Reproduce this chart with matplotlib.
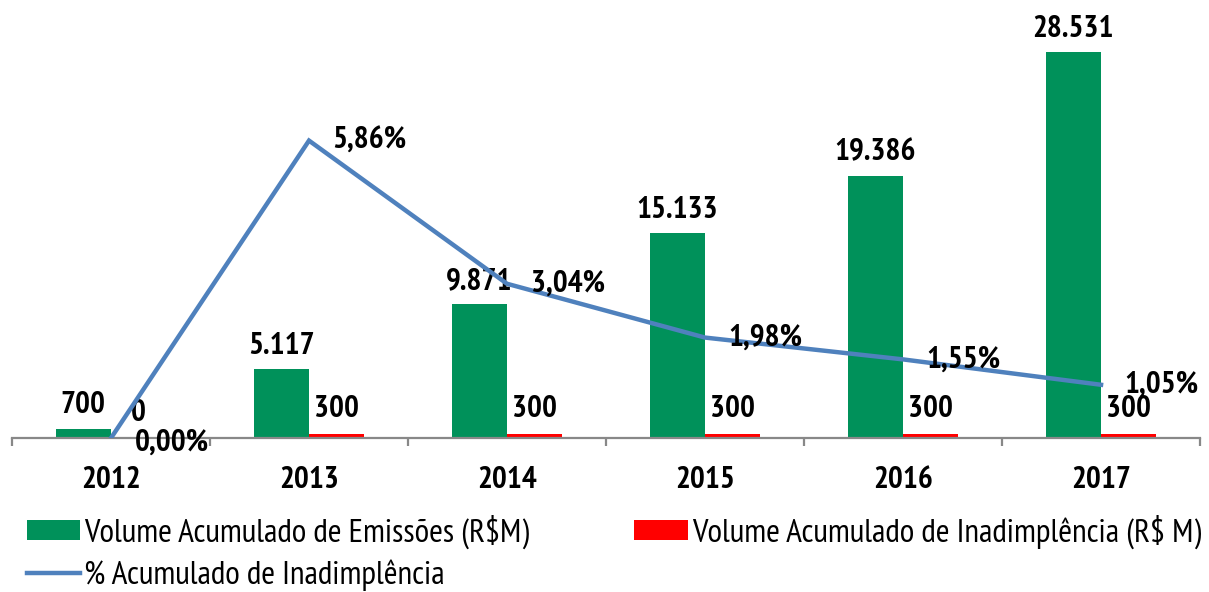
import matplotlib
matplotlib.use('Agg')
import matplotlib.pyplot as plt
from matplotlib.ticker import FixedLocator

plt.rcParams['font.family'] = ['PT Sans Narrow', 'DejaVu Sans']

years = ['2012', '2013', '2014', '2015', '2016', '2017']
emissoes = [700, 5117, 9871, 15133, 19386, 28531]
inadimplencia = [0, 300, 300, 300, 300, 300]
pct_inad = [0.00, 5.86, 3.04, 1.98, 1.55, 1.05]

green = '#00915A'
red = '#FF0000'
blue = '#4F81BD'


def fmt_int(v):
    return f'{v:,}'.replace(',', '.')


def fmt_pct(v):
    return f'{v:.2f}%'.replace('.', ',')


fig = plt.figure(figsize=(12.09, 5.92), dpi=100)
ax = fig.add_axes([0.0099, 0.26, 0.9827, 0.686])
ax2 = ax.twinx()

x = list(range(len(years)))
w = 0.28
b1 = ax.bar(x, emissoes, width=-w, align='edge', color=green)
b2 = ax.bar(x, inadimplencia, width=w, align='edge', color=red)
ln, = ax2.plot(x, pct_inad, color=blue, lw=3.2, solid_joinstyle='miter')

ax.set_xlim(-0.5, 5.5)
ax.set_ylim(0, 30000)
ax2.set_ylim(0, 8)

lab_size = 22.5
# data labels
for i, v in enumerate(emissoes):
    ax.annotate(fmt_int(v), (i - w / 2, v), xytext=(0, 11), textcoords='offset points',
                ha='center', va='baseline', fontsize=lab_size, fontweight='bold')
for i, v in enumerate(inadimplencia):
    ax.annotate(fmt_int(v), (i + w / 2, v), xytext=(0, 12), textcoords='offset points',
                ha='center', va='baseline', fontsize=lab_size, fontweight='bold')
for i, v in enumerate(pct_inad):
    ax2.annotate(fmt_pct(v), (i, v), xytext=(17, -3 if v == 0 else 0), textcoords='offset points',
                 ha='left', va='center', fontsize=lab_size, fontweight='bold')

# axes styling
for a in (ax, ax2):
    for s in ('top', 'left', 'right'):
        a.spines[s].set_visible(False)
    a.set_yticks([])
ax2.spines['bottom'].set_visible(False)
ax.spines['bottom'].set_color('#888888')
ax.spines['bottom'].set_linewidth(1.6)

ax.set_xticks(x)
ax.set_xticklabels(years, fontsize=lab_size, fontweight='bold')
ax.tick_params(axis='x', which='major', length=0, pad=20)
ax.xaxis.set_minor_locator(FixedLocator([i - 0.5 for i in range(len(years) + 1)]))
ax.tick_params(axis='x', which='minor', length=6, width=1.6, color='#888888')

fig.legend([b1, ln, b2],
           ['Volume Acumulado de Emissões (R$M)', '% Acumulado de Inadimplência',
            'Volume Acumulado de Inadimplência (R$ M)'],
           ncol=2, loc='center left', bbox_to_anchor=(0.0223, 0.066),
           frameon=False, fontsize=24, handlelength=1.6, handleheight=0.53,
           handletextpad=0.12, columnspacing=3.15, labelspacing=0.3,
           borderaxespad=0, borderpad=0)

fig.savefig('out.png', dpi=100)
